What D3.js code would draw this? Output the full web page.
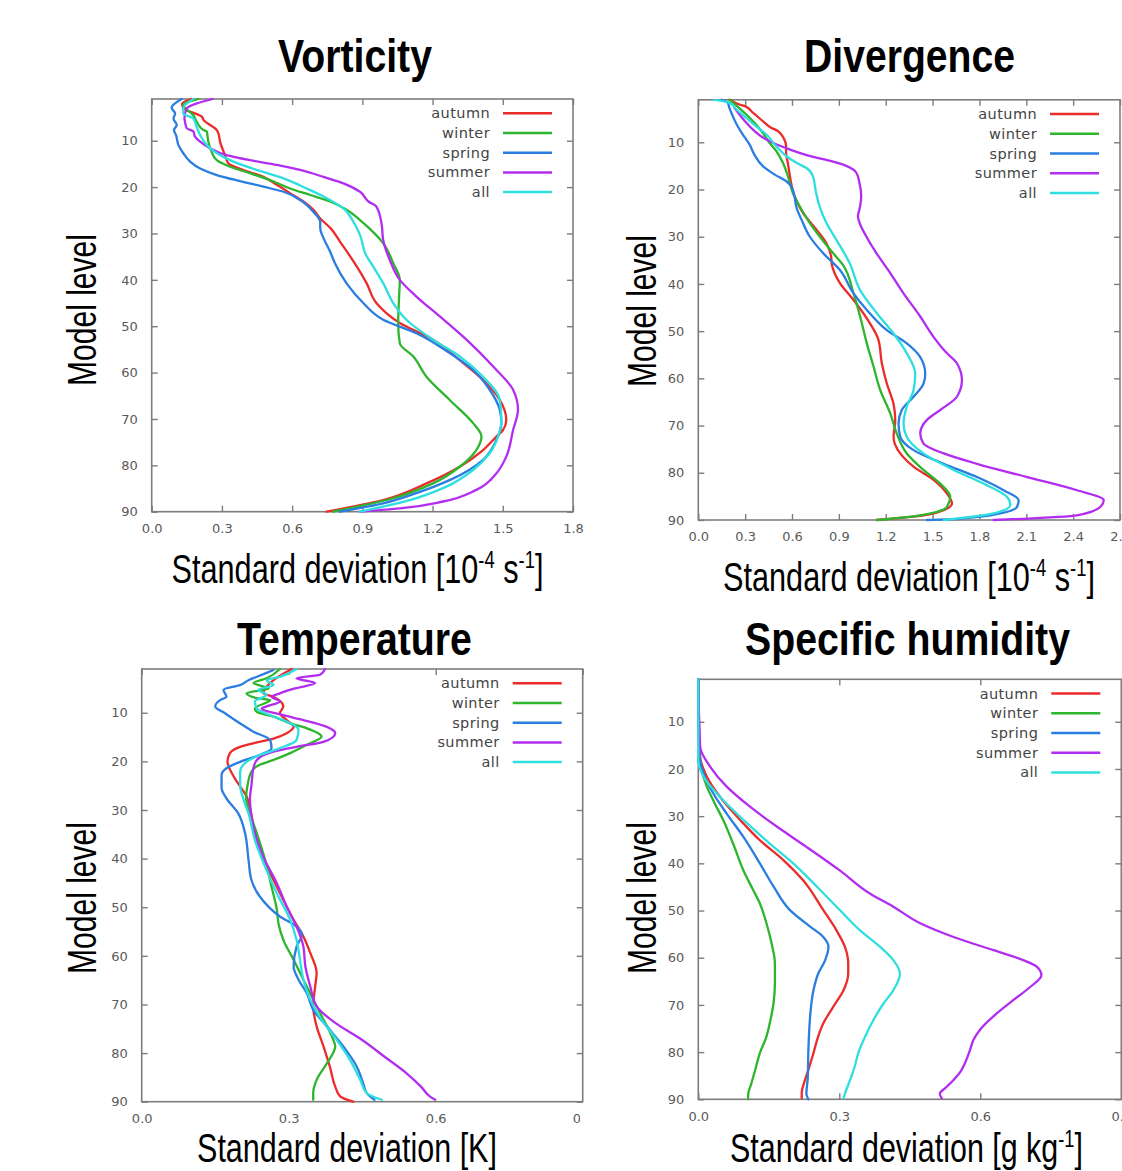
<!DOCTYPE html>
<html><head><meta charset="utf-8">
<script src="https://cdn.jsdelivr.net/npm/d3@7"></script>
<style>body{margin:0;background:#fff}svg{display:block}</style>
</head><body>
<svg id="chart" width="1122" height="1171"></svg>
<script>
// ---------------- data ----------------
const seasons = ["autumn", "winter", "spring", "summer", "all"];
const seasonColors = ["#ec2b2b", "#2db52d", "#2a7de1", "#b32df0", "#2fdede"];
const levelTicks = [10, 20, 30, 40, 50, 60, 70, 80, 90];
const vortTicks = [0, 0.3, 0.6, 0.9, 1.2, 1.5, 1.8];
const divTicks = [0, 0.3, 0.6, 0.9, 1.2, 1.5, 1.8, 2.1, 2.4, 2.7];
const tempTicks = [0, 0.3, 0.6, 0.9];
const humTicks = [0, 0.3, 0.6, 0.9];

// Vorticity
const vortAutumnLev = [1, 2, 3, 4.8, 5.5, 7.7, 8.4, 10.2, 13.1, 14.9, 16.3, 17.8, 19.5, 21.3, 23.1, 24.9, 26.7, 28.9, 31.8, 35.7, 40.7, 45, 49.3, 52.9, 57.3, 61.6, 65.9, 70.2, 72.4, 73.8, 76.7, 80.3, 83.9, 87.5, 90];
const vortAutumnVal = [0.17, 0.13, 0.135, 0.214, 0.221, 0.278, 0.285, 0.292, 0.313, 0.328, 0.392, 0.477, 0.534, 0.591, 0.648, 0.691, 0.719, 0.765, 0.805, 0.858, 0.918, 0.96, 1.06, 1.202, 1.316, 1.416, 1.487, 1.515, 1.501, 1.473, 1.416, 1.316, 1.174, 0.989, 0.747];
const vortWinterLev = [1, 2.3, 4.5, 5.9, 7.7, 8, 10.2, 12.4, 14.2, 15.6, 17, 18.5, 20.3, 21.7, 23.1, 24.9, 27.1, 28.9, 32.1, 36.4, 40, 43.6, 49.3, 53.7, 56.5, 60.9, 65.9, 70.9, 73.8, 76.7, 80.3, 83.9, 87.1, 90];
const vortWinterVal = [0.2, 0.135, 0.178, 0.192, 0.221, 0.235, 0.242, 0.256, 0.278, 0.335, 0.42, 0.506, 0.591, 0.677, 0.762, 0.833, 0.89, 0.93, 0.989, 1.032, 1.06, 1.057, 1.053, 1.06, 1.117, 1.174, 1.273, 1.373, 1.409, 1.387, 1.316, 1.202, 1.032, 0.775];
const vortSpringLev = [1, 2.9, 4.1, 5.2, 6.6, 7.7, 8.8, 10.9, 12.7, 14.5, 16, 17.4, 18.7, 19.9, 21, 22.8, 25.3, 27.5, 28.9, 31, 33.9, 36.4, 40.7, 45, 48.6, 51.5, 55.8, 59.4, 63.7, 68, 70.9, 74.5, 78.8, 83.2, 86, 88.2, 90];
const vortSpringVal = [0.128, 0.085, 0.1, 0.093, 0.107, 0.095, 0.104, 0.114, 0.135, 0.164, 0.207, 0.278, 0.377, 0.477, 0.563, 0.634, 0.69, 0.72, 0.72, 0.734, 0.762, 0.783, 0.832, 0.904, 0.989, 1.131, 1.273, 1.373, 1.444, 1.487, 1.494, 1.473, 1.416, 1.273, 1.131, 0.989, 0.804];
const vortSummerLev = [1, 2, 3, 5, 5.9, 7.3, 8, 9.1, 10.2, 11.6, 13.1, 14.2, 15.2, 16.3, 17.8, 19.2, 21, 23.1, 24.2, 27.8, 31.4, 35.7, 40, 43.6, 47.9, 52.9, 58.7, 63.7, 68, 72.4, 78.1, 81.7, 85.3, 87.8, 89.3, 90];
const vortSummerVal = [0.26, 0.19, 0.15, 0.14, 0.142, 0.15, 0.178, 0.185, 0.207, 0.249, 0.32, 0.42, 0.534, 0.634, 0.734, 0.819, 0.89, 0.926, 0.96, 0.982, 0.989, 1.017, 1.06, 1.131, 1.231, 1.345, 1.459, 1.544, 1.565, 1.544, 1.515, 1.473, 1.387, 1.245, 1.06, 0.889];
const vortAllLev = [1, 3, 4.1, 5.2, 7, 8.8, 10.9, 12.7, 14.5, 16.3, 18.1, 20.3, 22.4, 24.6, 27.5, 30.3, 34.6, 37.1, 40.7, 45, 48.6, 52.9, 56.5, 60.9, 65.9, 70.2, 73.8, 77.4, 81, 84.6, 87.5, 90];
const vortAllVal = [0.178, 0.135, 0.135, 0.178, 0.192, 0.207, 0.235, 0.278, 0.349, 0.449, 0.563, 0.662, 0.748, 0.819, 0.862, 0.89, 0.915, 0.946, 0.989, 1.032, 1.088, 1.202, 1.316, 1.416, 1.487, 1.494, 1.48, 1.444, 1.373, 1.259, 1.103, 0.889];

// Divergence
const divAutumnLev = [1, 2, 2.3, 3.7, 5.5, 6.9, 7.6, 8.3, 9.4, 10.8, 12.2, 14.3, 16.4, 18.6, 21.4, 24.9, 28.4, 31.3, 34.1, 35.9, 39.9, 43.4, 48.4, 51.9, 56.8, 61.1, 65.4, 68.9, 72.4, 75.9, 78.7, 81.5, 84.4, 86.5, 87.9, 89.3, 90];
const divAutumnVal = [0.2, 0.263, 0.295, 0.349, 0.413, 0.466, 0.509, 0.53, 0.551, 0.562, 0.562, 0.573, 0.583, 0.594, 0.616, 0.669, 0.754, 0.819, 0.85, 0.855, 0.908, 0.994, 1.1, 1.154, 1.175, 1.207, 1.25, 1.261, 1.25, 1.293, 1.378, 1.506, 1.592, 1.624, 1.571, 1.378, 1.143];
const divWinterLev = [1, 2.2, 4.1, 5.8, 8, 10.1, 11.8, 14.3, 17.1, 20.7, 23.5, 27, 29.9, 33.4, 35.9, 42, 46.9, 52.6, 57.5, 62.5, 67.4, 71.7, 75.9, 79.4, 82.3, 85.1, 87.2, 89, 90];
const divWinterVal = [0.2, 0.242, 0.306, 0.359, 0.413, 0.455, 0.498, 0.541, 0.573, 0.605, 0.648, 0.712, 0.776, 0.861, 0.925, 0.994, 1.036, 1.079, 1.122, 1.165, 1.229, 1.271, 1.335, 1.442, 1.549, 1.613, 1.592, 1.421, 1.143];
const divSpringLev = [1, 1.6, 2.7, 4.4, 6.6, 8.3, 10.4, 12.6, 15, 16.8, 18.2, 19.3, 21.4, 23.5, 27, 29.9, 33.4, 37.1, 42, 45.5, 49.8, 52.6, 55.5, 59, 61.1, 63.9, 66.7, 69.6, 72.4, 75.2, 78.1, 80.9, 83.7, 85.8, 87.2, 88.6, 89.7, 90];
const divSpringVal = [0.15, 0.188, 0.199, 0.22, 0.252, 0.284, 0.327, 0.359, 0.412, 0.487, 0.562, 0.594, 0.616, 0.626, 0.669, 0.712, 0.797, 0.908, 0.994, 1.079, 1.207, 1.335, 1.421, 1.453, 1.442, 1.378, 1.303, 1.282, 1.293, 1.378, 1.571, 1.784, 1.955, 2.051, 2.041, 1.934, 1.677, 1.464];
const divSummerLev = [2.7, 4.1, 5.8, 7.6, 9, 10.1, 11.5, 12.9, 13.9, 15, 16.4, 18.6, 21.4, 24.2, 25.6, 27, 29.9, 33.4, 37.7, 42, 46.9, 51.2, 54.7, 56.8, 60.4, 63.9, 66.7, 68.8, 71.7, 73.8, 75.9, 78.1, 80.9, 83.7, 85.8, 87.2, 89, 90];
const divSummerVal = [0.231, 0.263, 0.306, 0.359, 0.413, 0.477, 0.584, 0.712, 0.84, 0.947, 1.011, 1.032, 1.043, 1.032, 1.022, 1.032, 1.075, 1.139, 1.229, 1.314, 1.421, 1.506, 1.592, 1.656, 1.688, 1.656, 1.549, 1.464, 1.421, 1.442, 1.571, 1.784, 2.105, 2.425, 2.596, 2.575, 2.425, 1.891];
const divAllLev = [1, 1.6, 3, 4.8, 6.6, 8.3, 10.8, 12.9, 14.3, 15.4, 17.1, 20.7, 23.5, 27, 30.6, 35.5, 41.3, 46.2, 50.5, 54.7, 59, 62.5, 66, 69.6, 72.4, 75.9, 79.4, 82.3, 85.1, 86.8, 88.6, 90];
const divAllVal = [0.103, 0.199, 0.242, 0.306, 0.37, 0.434, 0.498, 0.562, 0.626, 0.69, 0.733, 0.754, 0.776, 0.819, 0.883, 0.968, 1.036, 1.143, 1.25, 1.335, 1.389, 1.378, 1.335, 1.314, 1.335, 1.442, 1.635, 1.827, 1.976, 1.998, 1.891, 1.571];

// Temperature
const tempAutumnLev = [1, 3.3, 6, 6.7, 8.7, 10.1, 11.5, 12.9, 14.2, 15.3, 16.1, 17, 18.3, 20.1, 21.4, 23.5, 25.2, 27.2, 29.6, 34.8, 40.3, 44.4, 48.5, 52.6, 56, 59.4, 63.5, 66.3, 70.4, 74.5, 78.6, 82.8, 86.9, 88.9, 90];
const tempAutumnVal = [0.306, 0.269, 0.248, 0.269, 0.289, 0.282, 0.296, 0.31, 0.296, 0.269, 0.235, 0.201, 0.18, 0.175, 0.179, 0.19, 0.201, 0.214, 0.221, 0.231, 0.248, 0.269, 0.289, 0.31, 0.33, 0.344, 0.357, 0.354, 0.35, 0.357, 0.371, 0.384, 0.395, 0.405, 0.432];
const tempWinterLev = [1, 2.9, 3.9, 5, 6, 7, 7.4, 9.1, 9.8, 10.8, 12.2, 13.2, 14.9, 16.6, 18.3, 19.7, 20.7, 22.1, 24.9, 27.6, 30.7, 34.8, 40.3, 45.8, 50.6, 53.3, 56.7, 60.8, 64.9, 69, 73.1, 77.3, 78.6, 82.1, 85.5, 88.2, 89.6];
const tempWinterVal = [0.282, 0.255, 0.228, 0.259, 0.214, 0.235, 0.262, 0.231, 0.235, 0.269, 0.303, 0.337, 0.367, 0.337, 0.303, 0.269, 0.241, 0.224, 0.216, 0.213, 0.221, 0.235, 0.252, 0.265, 0.276, 0.279, 0.289, 0.31, 0.33, 0.35, 0.371, 0.391, 0.395, 0.378, 0.357, 0.35, 0.35];
const tempSpringLev = [1.2, 2.6, 3.3, 4.3, 5.3, 6.7, 7.4, 8.7, 10.1, 12.2, 13.9, 15.6, 17.3, 18.7, 20.1, 21.4, 22.8, 25.5, 27.6, 30.7, 34.8, 40.3, 44.4, 47.8, 51.9, 54, 55.7, 58.1, 62.2, 64.9, 67.7, 71.1, 74.5, 78.7, 82.8, 86.2, 88.2, 89.6];
const tempSpringVal = [0.269, 0.235, 0.218, 0.201, 0.167, 0.173, 0.16, 0.15, 0.17, 0.201, 0.228, 0.262, 0.265, 0.241, 0.201, 0.173, 0.163, 0.163, 0.173, 0.197, 0.211, 0.218, 0.224, 0.241, 0.282, 0.316, 0.327, 0.316, 0.31, 0.32, 0.337, 0.35, 0.378, 0.412, 0.439, 0.452, 0.459, 0.475];
const tempSummerLev = [1, 2.2, 2.9, 3.9, 5, 6, 6.7, 7.7, 8.7, 9.1, 10.5, 11.5, 12.9, 14.2, 16, 17, 18, 19.7, 21.4, 24.9, 27.6, 33.5, 39.6, 45.1, 49.9, 54, 58.1, 62.2, 66.3, 70.4, 73.8, 77.3, 80.7, 84.1, 86.9, 88.9, 89.6];
const tempSummerVal = [0.374, 0.364, 0.316, 0.354, 0.313, 0.282, 0.265, 0.282, 0.255, 0.245, 0.289, 0.33, 0.378, 0.395, 0.371, 0.316, 0.269, 0.235, 0.228, 0.224, 0.221, 0.228, 0.248, 0.276, 0.296, 0.316, 0.33, 0.334, 0.344, 0.357, 0.395, 0.45, 0.495, 0.54, 0.57, 0.588, 0.599];
const tempAllLev = [1, 2.6, 3.3, 4.3, 5.3, 6.3, 7.7, 9.1, 10.5, 11.8, 13.5, 15.6, 17.3, 18.7, 20.1, 22.1, 24.9, 27.6, 30.7, 36.2, 41.7, 47.2, 52.6, 56.7, 60.8, 64.9, 69, 73.1, 77.3, 81.4, 85.5, 88.2, 89.6];
const tempAllVal = [0.316, 0.282, 0.255, 0.269, 0.238, 0.255, 0.231, 0.235, 0.262, 0.296, 0.32, 0.316, 0.282, 0.241, 0.214, 0.201, 0.201, 0.207, 0.218, 0.231, 0.252, 0.276, 0.303, 0.316, 0.323, 0.33, 0.344, 0.367, 0.398, 0.425, 0.446, 0.459, 0.49];

// Specific humidity
const humAutumnLev = [1, 17.4, 21.6, 25.9, 30.8, 35.1, 39.3, 43.6, 49.9, 54.2, 57.7, 61.2, 63.4, 66.9, 70.4, 73.9, 76.7, 80.2, 83.8, 85.9, 88.8, 89.8];
const humAutumnVal = [0, 0.004, 0.018, 0.046, 0.089, 0.131, 0.181, 0.223, 0.266, 0.294, 0.312, 0.319, 0.319, 0.309, 0.287, 0.266, 0.255, 0.245, 0.234, 0.227, 0.22, 0.22];
const humWinterLev = [1, 16.7, 20.2, 23.7, 27.3, 30.8, 35.8, 41.5, 45.7, 48.5, 52.7, 57, 61.2, 65.4, 69.7, 73.9, 76.7, 80.2, 83.8, 86.6, 89.1, 90];
const humWinterVal = [0, 0.002, 0.007, 0.018, 0.035, 0.053, 0.074, 0.096, 0.117, 0.131, 0.145, 0.156, 0.163, 0.163, 0.16, 0.152, 0.145, 0.131, 0.121, 0.113, 0.106, 0.106];
const humSpringLev = [1, 16.7, 20.9, 25.2, 29.4, 34.4, 40, 44.9, 49.9, 53.4, 55.6, 57.7, 60.5, 63.4, 66.9, 71.2, 75.4, 80.4, 85.3, 88.9, 90];
const humSpringVal = [0, 0.002, 0.011, 0.032, 0.06, 0.096, 0.131, 0.16, 0.195, 0.238, 0.266, 0.277, 0.27, 0.255, 0.245, 0.239, 0.236, 0.234, 0.233, 0.23, 0.234];
const humSummerLev = [1, 15.3, 19.5, 23.7, 28, 32.2, 36.5, 41.5, 46.4, 49.2, 52.7, 55.6, 58.4, 60.5, 61.9, 63.7, 66.2, 69, 71.8, 75.3, 77.5, 79.6, 82.4, 83.8, 85.9, 87.4, 88.8, 89.8];
const humSummerVal = [0, 0.004, 0.025, 0.06, 0.11, 0.167, 0.23, 0.301, 0.365, 0.415, 0.472, 0.543, 0.628, 0.691, 0.72, 0.73, 0.706, 0.67, 0.635, 0.599, 0.585, 0.578, 0.567, 0.56, 0.543, 0.528, 0.514, 0.518];
const humAllLev = [1, 18.1, 21.6, 25.9, 30.8, 35.8, 40, 44.9, 49.9, 54.2, 57.7, 60.5, 63.4, 66.9, 69.7, 73.3, 76.7, 80.3, 83, 85.9, 88.8, 89.8];
const humAllVal = [0, 0, 0.011, 0.046, 0.096, 0.152, 0.202, 0.252, 0.301, 0.344, 0.387, 0.415, 0.429, 0.415, 0.394, 0.372, 0.355, 0.34, 0.333, 0.323, 0.312, 0.309];

// ---------------- drawing ----------------
const svg = d3.select("#chart");
const tickFont = "'DejaVu Sans', sans-serif";
const bigFont = "'Liberation Sans Narrow', 'Liberation Sans', Arial, sans-serif";

const panels = [
  { title: "Vorticity", tx: 355, ty: 72, tw: 154,
    xl: ["Standard deviation [10", "-4", " s", "-1", "]"], xlx: 357.5, xly: 583, xlw: 372,
    ylx: 96, yly: 310,
    box: [151.7, 573, 99, 511.7], xmax: 1.8, ticks: vortTicks,
    series: [[vortAutumnLev, vortAutumnVal], [vortWinterLev, vortWinterVal], [vortSpringLev, vortSpringVal], [vortSummerLev, vortSummerVal], [vortAllLev, vortAllVal]] },
  { title: "Divergence", tx: 909.5, ty: 72, tw: 211,
    xl: ["Standard deviation [10", "-4", " s", "-1", "]"], xlx: 909, xly: 591, xlw: 372,
    ylx: 656, yly: 311,
    box: [698.3, 1120, 99.8, 520], xmax: 2.7, ticks: divTicks,
    series: [[divAutumnLev, divAutumnVal], [divWinterLev, divWinterVal], [divSpringLev, divSpringVal], [divSummerLev, divSummerVal], [divAllLev, divAllVal]] },
  { title: "Temperature", tx: 354.5, ty: 655, tw: 235,
    xl: ["Standard deviation [K]"], xlx: 347, xly: 1162, xlw: 300,
    ylx: 96, yly: 898, clipX: 580,
    box: [141.7, 582.7, 669, 1101.7], xmax: 0.9, ticks: tempTicks,
    series: [[tempAutumnLev, tempAutumnVal], [tempWinterLev, tempWinterVal], [tempSpringLev, tempSpringVal], [tempSummerLev, tempSummerVal], [tempAllLev, tempAllVal]] },
  { title: "Specific humidity", tx: 907.5, ty: 655, tw: 325,
    xl: ["Standard deviation [g kg", "-1", "]"], xlx: 906.5, xly: 1162, xlw: 353,
    ylx: 656, yly: 898,
    box: [698.3, 1121.3, 679.3, 1099.3], xmax: 0.9, ticks: humTicks,
    series: [[humAutumnLev, humAutumnVal], [humWinterLev, humWinterVal], [humSpringLev, humSpringVal], [humSummerLev, humSummerVal], [humAllLev, humAllVal]] }
];

function fitWidth(sel, cx, target) {
  const w = sel.node().getBBox().width;
  const s = w > 0 ? target / w : 1;
  sel.attr("transform", `translate(${cx},0) scale(${s},1) translate(${-cx},0)`);
}

panels.forEach((p, pi) => {
  const [x0, x1, y0, y1] = p.box;
  const x = d3.scaleLinear().domain([0, p.xmax]).range([x0, x1]);
  const y = d3.scaleLinear().domain([1, 90]).range([y0, y1]);
  const g = svg.append("g");

  // frame
  g.append("rect").attr("x", x0).attr("y", y0).attr("width", x1 - x0).attr("height", y1 - y0)
    .attr("fill", "none").attr("stroke", "#7d7d7d").attr("stroke-width", 1.6);

  // axes via d3 (inward ticks)
  const tickLen = 6;
  const axB = d3.axisBottom(x).tickValues(p.ticks).tickSize(-tickLen).tickPadding(12).tickFormat(d3.format(".1f"));
  const axT = d3.axisTop(x).tickValues(p.ticks).tickSize(-tickLen).tickFormat("");
  const axL = d3.axisLeft(y).tickValues(levelTicks).tickSize(-tickLen).tickPadding(14).tickFormat(d3.format("d"));
  const axR = d3.axisRight(y).tickValues(levelTicks).tickSize(-tickLen).tickFormat("");

  let clipId = null;
  if (p.clipX) {
    clipId = "clip" + pi;
    svg.append("clipPath").attr("id", clipId).append("rect")
      .attr("x", 0).attr("y", 0).attr("width", p.clipX).attr("height", 1171);
  }
  const gb = g.append("g").attr("transform", `translate(0,${y1})`).call(axB);
  if (clipId) gb.attr("clip-path", `url(#${clipId})`);
  g.append("g").attr("transform", `translate(0,${y0})`).call(axT);
  g.append("g").attr("transform", `translate(${x0},0)`).call(axL);
  g.append("g").attr("transform", `translate(${x1},0)`).call(axR);
  g.selectAll(".domain").remove();
  g.selectAll(".tick line").attr("stroke", "#7d7d7d").attr("stroke-width", 1.4);
  g.selectAll(".tick text").attr("fill", "#5a5a5a").style("font-family", tickFont).style("font-size", "13px");

  // lines
  const line = d3.line().x(d => x(d[1])).y(d => y(d[0])).curve(d3.curveMonotoneY);
  p.series.forEach((s, si) => {
    const pts = s[0].map((l, i) => [l, s[1][i]]);
    g.append("path").datum(pts).attr("d", line)
      .attr("fill", "none").attr("stroke", seasonColors[si]).attr("stroke-width", 2.3)
      .attr("stroke-linejoin", "round").attr("stroke-linecap", "round");
  });

  // legend
  const lg = g.append("g");
  seasons.forEach((name, si) => {
    const ly = y0 + 14.3 + si * 19.7;
    lg.append("text").attr("x", x1 - 83).attr("y", ly).attr("dy", "0.35em")
      .attr("text-anchor", "end").attr("fill", "#444")
      .style("font-family", tickFont).style("font-size", "14.5px").style("letter-spacing", "0.4px")
      .text(name);
    lg.append("line").attr("x1", x1 - 70).attr("x2", x1 - 21).attr("y1", ly).attr("y2", ly)
      .attr("stroke", seasonColors[si]).attr("stroke-width", 2.5);
  });

  // title
  const t = svg.append("text").attr("x", p.tx).attr("y", p.ty).attr("text-anchor", "middle")
    .style("font-family", bigFont).style("font-weight", "bold").style("font-size", "47px")
    .attr("fill", "#000").text(p.title);
  fitWidth(t, p.tx, p.tw);

  // x label
  const xl = svg.append("text").attr("x", p.xlx).attr("y", p.xly).attr("text-anchor", "middle")
    .style("font-family", bigFont).style("font-size", "40px").attr("fill", "#000");
  p.xl.forEach((part, k) => {
    const isSup = part.startsWith("-") && part.length <= 2;
    const ts = xl.append("tspan").text(part);
    if (isSup) ts.attr("font-size", "24px").attr("dy", "-15");
    else if (k > 0) ts.attr("dy", "15");
  });
  fitWidth(xl, p.xlx, p.xlw);

  // y label
  const yg = svg.append("g").attr("transform", `translate(${p.ylx},${p.yly}) rotate(-90)`);
  const yl = yg.append("text").attr("x", 0).attr("y", 0).attr("text-anchor", "middle")
    .style("font-family", bigFont).style("font-size", "40px").attr("fill", "#000").text("Model level");
  fitWidth(yl, 0, 152);
});
</script>
</body></html>
